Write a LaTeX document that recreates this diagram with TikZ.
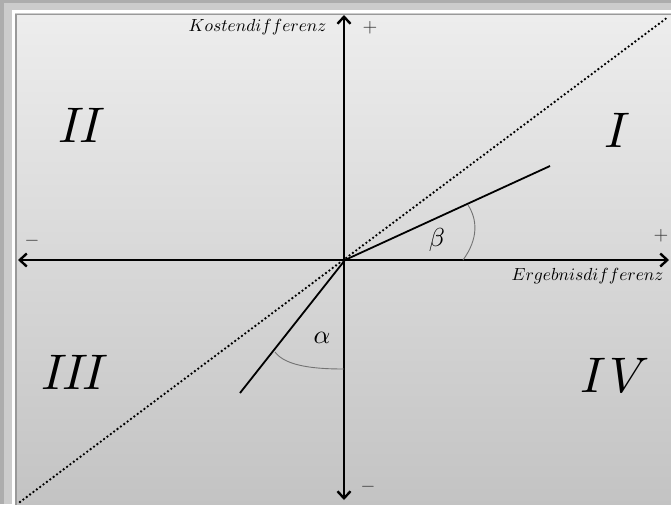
\documentclass[tikz,border=0pt]{standalone}
\usepackage{amsmath}
\usepackage{graphicx}
\usetikzlibrary{arrows.meta, positioning, calc}

\newcommand{\axlab}[1]{\scalebox{1.75}{$#1$}}
\newcommand{\quadlab}[1]{\scalebox{5}{$#1$}}
\newcommand{\anglab}[1]{\scalebox{2.6}{$#1$}}
\newcommand{\signlab}[1]{\scalebox{1.9}{$#1$}}
\newcommand{\ii}{\mkern-2mu}

\begin{document}
\begin{tikzpicture}[
    x=1pt, y=-1pt,
    axis/.style={
      line width=2.4pt,
      {Straight Barb[length=7pt,width=13pt]}-{Straight Barb[length=7pt,width=13pt]}
    },
    ray/.style={line width=1.8pt},
    diag/.style={line width=2.6pt, dash pattern=on 0pt off 4.2pt, line cap=round},
    anglearc/.style={draw=black!55, line width=0.9pt},
    sign/.style={inner sep=0pt, text=black!80}
  ]
  % frame and background
  \useasboundingbox (0,0) rectangle (671,504);
  \fill[black!32] (0,0) rectangle (671,504);
  \fill[black!20] (4,3) rectangle (671,504);
  \draw[white, line width=3pt] (13.5,11.5) rectangle (690,520);
  \shade[top color=black!7, bottom color=black!24] (16,14) rectangle (690,520);
  \draw[black!40, line width=1.2pt] (16,14.5) rectangle (690,520);

  \coordinate (o)     at (345,260);
  \coordinate (xleft) at (18,260);
  \coordinate (xright) at (669,260);
  \coordinate (ytop)  at (344,15);
  \coordinate (ybot)  at (344,500);
  \coordinate (dlow)  at (20,502);
  \coordinate (dhigh) at (668,17);
  \coordinate (bend)  at (550,166);
  \coordinate (aend)  at (240,393);

  % diagonal and rays
  \draw[diag] (dlow) -- (dhigh);
  \draw[ray] (o) -- (bend);
  \draw[ray] (o) -- (aend);

  % axes
  \draw[axis] (xleft) -- (xright);
  \draw[axis] (ybot) -- (ytop);

  % angles
  \draw[anglearc] (463,260) .. controls (479,238) and (477,219) .. (468,205);
  \draw[anglearc] (275,352) .. controls (286,367) and (318,369) .. (344,369);
  \node (beta)  at (437,240) {\anglab{\beta}};
  \node (alpha) at (322,338) {\anglab{\alpha}};

  % axis labels
  \node[anchor=east] (ylab) at (330,27) {\axlab{Kostendifferenz}};
  \node[anchor=east] (xlab) at (667,276) {\axlab{Ergebnisdifferenz}};
  \node[sign] (yplus)  at (370,28)  {\signlab{+}};
  \node[sign] (yminus) at (368,487) {\signlab{-}};
  \node[sign] (xminus) at (32,241)  {\signlab{-}};
  \node[sign] (xplus)  at (661,236) {\signlab{+}};

  % quadrants
  \node (q1) at (617,130) {\quadlab{I}};
  \node (q2) at (82,125)  {\quadlab{I\ii I}};
  \node (q3) at (75,372)  {\quadlab{I\ii I\ii I}};
  \node (q4) at (615,375) {\quadlab{I\mkern1mu V}};
\end{tikzpicture}
\end{document}
